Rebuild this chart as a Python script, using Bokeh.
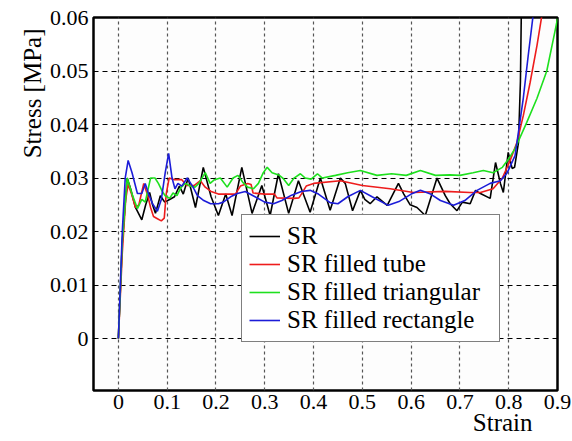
from bokeh.plotting import figure
from bokeh.models import Range1d, FixedTicker, Legend, LegendItem, Title
from bokeh.embed import file_html
from bokeh.resources import INLINE

# ---------------- data ----------------
x_ticks = [0, 0.1, 0.2, 0.3, 0.4, 0.5, 0.6, 0.7, 0.8, 0.9]
x_tick_labels = ["0", "0.1", "0.2", "0.3", "0.4", "0.5", "0.6", "0.7", "0.8", "0.9"]
y_ticks = [0, 0.01, 0.02, 0.03, 0.04, 0.05, 0.06]
y_tick_labels = ["0", "0.01", "0.02", "0.03", "0.04", "0.05", "0.06"]
x_title = "Strain"
y_title = "Stress [MPa]"

sr_x = [0, 0.008, 0.018, 0.025, 0.035, 0.048, 0.056, 0.064, 0.07, 0.076, 0.086, 0.095,
        0.105, 0.115, 0.125, 0.133, 0.143, 0.158, 0.174, 0.19, 0.205, 0.22, 0.233, 0.253,
        0.274, 0.294, 0.311, 0.328, 0.349, 0.369, 0.393, 0.414, 0.434, 0.455, 0.465, 0.48,
        0.496, 0.505, 0.516, 0.53, 0.551, 0.574, 0.585, 0.598, 0.612, 0.629, 0.653, 0.67,
        0.68, 0.694, 0.705, 0.721, 0.732, 0.742, 0.762, 0.773, 0.783, 0.789, 0.799, 0.807,
        0.812, 0.82, 0.824, 0.826]
sr_y = [0, 0.018, 0.030, 0.028, 0.0245, 0.0222, 0.025, 0.0273, 0.025, 0.0234, 0.0267, 0.0255,
        0.026, 0.0265, 0.0285, 0.027, 0.030, 0.0245, 0.032, 0.0265, 0.023, 0.027, 0.023, 0.032,
        0.0234, 0.0286, 0.023, 0.0308, 0.0234, 0.0295, 0.0236, 0.030, 0.024, 0.030, 0.029, 0.0239,
        0.0277, 0.026, 0.0252, 0.0265, 0.0249, 0.029, 0.027, 0.025, 0.0245, 0.023, 0.030, 0.0267,
        0.0252, 0.0239, 0.0255, 0.0252, 0.0277, 0.0271, 0.0262, 0.0329, 0.029, 0.0273, 0.0348, 0.0318,
        0.032, 0.0366, 0.048, 0.062]

tube_x = [0, 0.008, 0.015, 0.02, 0.027, 0.035, 0.042, 0.052, 0.06, 0.066, 0.072, 0.08, 0.088,
          0.094, 0.098, 0.104, 0.115, 0.13, 0.14, 0.155, 0.168, 0.178, 0.19, 0.205, 0.24, 0.25,
          0.265, 0.272, 0.276, 0.3, 0.32, 0.325, 0.36, 0.37, 0.375, 0.385, 0.40, 0.455, 0.50,
          0.557, 0.605, 0.67, 0.72, 0.742, 0.768, 0.787, 0.803, 0.817, 0.83, 0.844, 0.858, 0.868]
tube_y = [0, 0.016, 0.026, 0.0288, 0.027, 0.0245, 0.025, 0.029, 0.0268, 0.0245, 0.0228, 0.0224, 0.022,
          0.0225, 0.027, 0.030, 0.0297, 0.0297, 0.0286, 0.0286, 0.0295, 0.0283, 0.0275, 0.027, 0.027, 0.0285,
          0.029, 0.0288, 0.0272, 0.027, 0.027, 0.0263, 0.0262, 0.0263, 0.027, 0.0285, 0.029, 0.0295, 0.0286,
          0.028, 0.0273, 0.0275, 0.0273, 0.0273, 0.028, 0.030, 0.0333, 0.0367, 0.0417, 0.0479, 0.0548, 0.0604]

tri_x = [0, 0.008, 0.018, 0.028, 0.039, 0.048, 0.055, 0.066, 0.075, 0.082, 0.09, 0.096, 0.105,
         0.112, 0.12, 0.128, 0.137, 0.147, 0.157, 0.165, 0.178, 0.188, 0.197, 0.209, 0.223, 0.235,
         0.245, 0.255, 0.265, 0.277, 0.287, 0.297, 0.305, 0.315, 0.33, 0.337, 0.349, 0.36, 0.373,
         0.383, 0.395, 0.408, 0.418, 0.445, 0.47, 0.496, 0.53, 0.56, 0.59, 0.619, 0.65, 0.68, 0.70,
         0.727, 0.748, 0.768, 0.787, 0.80, 0.813, 0.837, 0.858, 0.878, 0.895, 0.9]
tri_y = [0, 0.018, 0.030, 0.027, 0.0243, 0.026, 0.0255, 0.030, 0.030, 0.029, 0.0275, 0.0267, 0.0262,
         0.0272, 0.0267, 0.0282, 0.029, 0.0285, 0.0283, 0.029, 0.031, 0.029, 0.0297, 0.030, 0.0283, 0.030,
         0.0305, 0.0292, 0.0283, 0.028, 0.029, 0.031, 0.032, 0.031, 0.0305, 0.030, 0.0286, 0.030, 0.0308,
         0.030, 0.0298, 0.0308, 0.030, 0.0305, 0.031, 0.0314, 0.0305, 0.0308, 0.0305, 0.0314, 0.0305, 0.0306, 0.0305,
         0.031, 0.0314, 0.031, 0.032, 0.0336, 0.0355, 0.0404, 0.0449, 0.050, 0.0575, 0.0598]

rect_x = [0, 0.008, 0.014, 0.02, 0.028, 0.039, 0.048, 0.055, 0.062, 0.07, 0.08, 0.088, 0.096,
          0.103, 0.11, 0.116, 0.122, 0.13, 0.141, 0.152, 0.162, 0.175, 0.189, 0.205, 0.215, 0.23,
          0.244, 0.26, 0.28, 0.3, 0.318, 0.335, 0.355, 0.375, 0.393, 0.41, 0.434, 0.45, 0.47, 0.496,
          0.52, 0.553, 0.575, 0.6, 0.619, 0.64, 0.66, 0.687, 0.71, 0.735, 0.762, 0.783, 0.797, 0.813,
          0.817, 0.83, 0.84, 0.85]
rect_y = [0, 0.02, 0.030, 0.0333, 0.031, 0.0271, 0.0271, 0.029, 0.027, 0.0252, 0.0238, 0.026, 0.031,
          0.0346, 0.030, 0.028, 0.029, 0.0285, 0.030, 0.0285, 0.0267, 0.0258, 0.0252, 0.0252, 0.0255, 0.0265,
          0.0271, 0.0275, 0.0265, 0.0255, 0.0252, 0.0258, 0.0268, 0.0275, 0.0277, 0.027, 0.0254, 0.0252, 0.0265, 0.0277,
          0.0265, 0.0249, 0.0256, 0.027, 0.0277, 0.027, 0.0258, 0.0249, 0.0258, 0.0277, 0.029, 0.0295, 0.031, 0.0342,
          0.0367, 0.045, 0.0529, 0.0604]

series_names = ["SR", "SR filled tube", "SR filled triangular", "SR filled rectangle"]
series_colors = ["#000000", "#ee1c1c", "#1ee01e", "#1c1cd8"]

# ---------------- figure ----------------
SERIF = "Liberation Serif"

p = figure(width=572, height=441, output_backend="svg", toolbar_location=None,
           x_range=Range1d(-0.051, 0.9), y_range=Range1d(-0.0097, 0.06),
           min_border_left=93, min_border_right=15, min_border_top=17, min_border_bottom=51)
p.background_fill_color = "#fdfdfd"
p.border_fill_color = "white"
p.outline_line_color = "black"
p.outline_line_width = 2.5

renderers = []
for xs, ys, c in [(sr_x, sr_y, series_colors[0]), (tube_x, tube_y, series_colors[1]),
                  (tri_x, tri_y, series_colors[2]), (rect_x, rect_y, series_colors[3])]:
    r = p.line(xs, ys, line_color=c, line_width=1.6)
    renderers.append(r)

p.xaxis.ticker = FixedTicker(ticks=x_ticks)
p.yaxis.ticker = FixedTicker(ticks=y_ticks)
p.xaxis.major_label_overrides = {t: l for t, l in zip(x_ticks, x_tick_labels)}
p.yaxis.major_label_overrides = {t: l for t, l in zip(y_ticks, y_tick_labels)}
for ax in (p.xaxis, p.yaxis):
    ax.axis_line_color = None
    ax.major_tick_line_color = None
    ax.minor_tick_line_color = None
    ax.major_tick_out = 0
    ax.major_tick_in = 0
    ax.major_label_text_font = SERIF
    ax.major_label_text_font_size = "22px"
    ax.major_label_text_color = "black"
p.xaxis.major_label_standoff = 4
p.yaxis.major_label_standoff = 5

p.add_layout(Title(text=y_title, align="right", offset=11, standoff=2,
                   text_font=SERIF, text_font_size="25px", text_font_style="normal",
                   text_color="black"), "left")
p.add_layout(Title(text=x_title, align="right", offset=25, standoff=-10,
                   text_font=SERIF, text_font_size="25px", text_font_style="normal",
                   text_color="black"), "below")

p.xgrid.grid_line_color = "#555555"
p.xgrid.grid_line_dash = "3 3"
p.xgrid.grid_line_width = 1.2
p.ygrid.grid_line_color = "black"
p.ygrid.grid_line_dash = "5 4"
p.ygrid.grid_line_width = 1

legend = Legend(items=[LegendItem(label=n, renderers=[r]) for n, r in zip(series_names, renderers)],
                location=(148, 48),
                label_text_font=SERIF, label_text_font_size="25px", label_text_font_style="normal",
                label_text_line_height=0.93, label_text_color="black",
                glyph_width=31, glyph_height=20, label_height=20, label_width=205, label_standoff=7,
                spacing=0, padding=7, margin=0,
                border_line_color="black", border_line_width=1.5,
                background_fill_color="white", background_fill_alpha=1)
p.add_layout(legend, "center")

open("out.html", "w").write(file_html(p, INLINE))
